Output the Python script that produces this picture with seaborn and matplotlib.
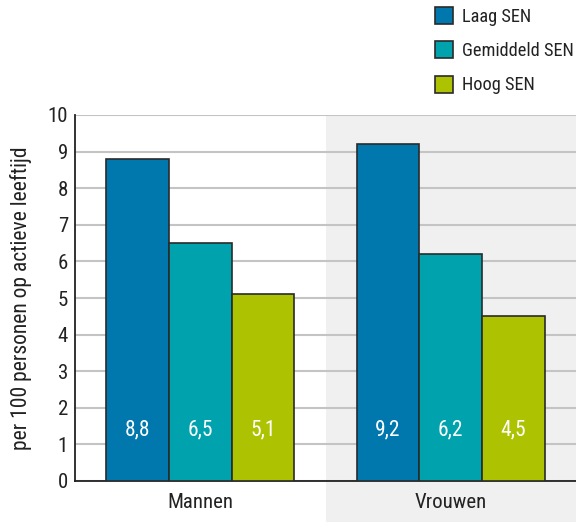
import matplotlib
matplotlib.use("Agg")
import matplotlib.pyplot as plt
from matplotlib import font_manager as fm
import seaborn as sns
import pandas as pd

groups = ["Mannen", "Vrouwen"]
sen_levels = ["Laag SEN", "Gemiddeld SEN", "Hoog SEN"]
laag = [8.8, 9.2]
gemiddeld = [6.5, 6.2]
hoog = [5.1, 4.5]
colors = ["#0078AE", "#00A3AD", "#ADC200"]
ylabel = "per 100 personen op actieve leeftijd"

rows = []
for lvl, vals in zip(sen_levels, [laag, gemiddeld, hoog]):
    for g, v in zip(groups, vals):
        rows.append({"groep": g, "SEN": lvl, "waarde": v})
df = pd.DataFrame(rows)

sns.set_style("white")

# pick a narrow font if one is installed
names = {f.name for f in fm.fontManager.ttflist}
condensed = {(f.name) for f in fm.fontManager.ttflist if str(f.stretch) in ("condensed", "semi-condensed", "extra-condensed")}
family = None
stretch = "normal"
for cand in ["Liberation Sans Narrow", "Roboto Condensed", "Open Sans Condensed", "Noto Sans Condensed"]:
    if cand in names:
        family = cand
        break
if family is None:
    for cand in ["Roboto", "Open Sans", "Noto Sans", "DejaVu Sans"]:
        if cand in condensed:
            family = cand
            stretch = "condensed"
            break
if family is None:
    family = "Liberation Sans"
plt.rcParams["font.family"] = [family, "DejaVu Sans"]
plt.rcParams["font.stretch"] = stretch
narrow = stretch == "condensed" or family != "Liberation Sans"
fs = 15 if narrow else 13.5

fig = plt.figure(figsize=(5.76, 5.22), dpi=100)
ax = fig.add_axes([75/576, 41/522, 1 - 75/576, (481-115)/522])

ax.axvspan(0.5, 1.5, ymin=-41/366, ymax=1, color="#f0f0f0", zorder=0, clip_on=False, lw=0)

sns.barplot(data=df, x="groep", y="waarde", hue="SEN", order=groups, hue_order=sen_levels,
            palette=colors, width=0.75, edgecolor="#2a2a2a", linewidth=1.2, ax=ax, zorder=3,
            saturation=1, errorbar=None)

for cont in ax.containers:
    for p in cont:
        h = p.get_height()
        ax.text(p.get_x() + p.get_width()/2, 1.4, f"{h:.1f}".replace(".", ","),
                ha="center", va="center", color="white", fontsize=fs + 0.5, zorder=5)

ax.set_xlim(-0.5, 1.5)
ax.set_ylim(0, 10)
ax.set_yticks(range(0, 11))
ax.yaxis.grid(True, color="#c4c4c4", linewidth=1.5, zorder=1)
ax.set_axisbelow(True)
for s in ["top", "right"]:
    ax.spines[s].set_visible(False)
ax.spines["left"].set_color("#222222")
ax.spines["bottom"].set_color("#222222")
ax.spines["left"].set_linewidth(1.3)
ax.spines["bottom"].set_linewidth(1.3)
ax.tick_params(axis="both", length=0, labelsize=fs, colors="#222222")
ax.tick_params(axis="y", pad=5)
ax.tick_params(axis="x", pad=9)
ax.set_xlabel("")
ax.set_ylabel(ylabel, fontsize=fs + 0.5, color="#222222", labelpad=11)

handles, labels = ax.get_legend_handles_labels()
ax.legend(handles, labels, loc="upper left", bbox_to_anchor=(435/576, 1 - 7/522),
          bbox_transform=fig.transFigure, frameon=False, fontsize=fs - 1.8,
          handlelength=1.0, handleheight=1.05, handletextpad=0.45, labelspacing=0.85,
          labelcolor="#222222", borderaxespad=0, borderpad=0)

fig.savefig("out.png", dpi=100)
